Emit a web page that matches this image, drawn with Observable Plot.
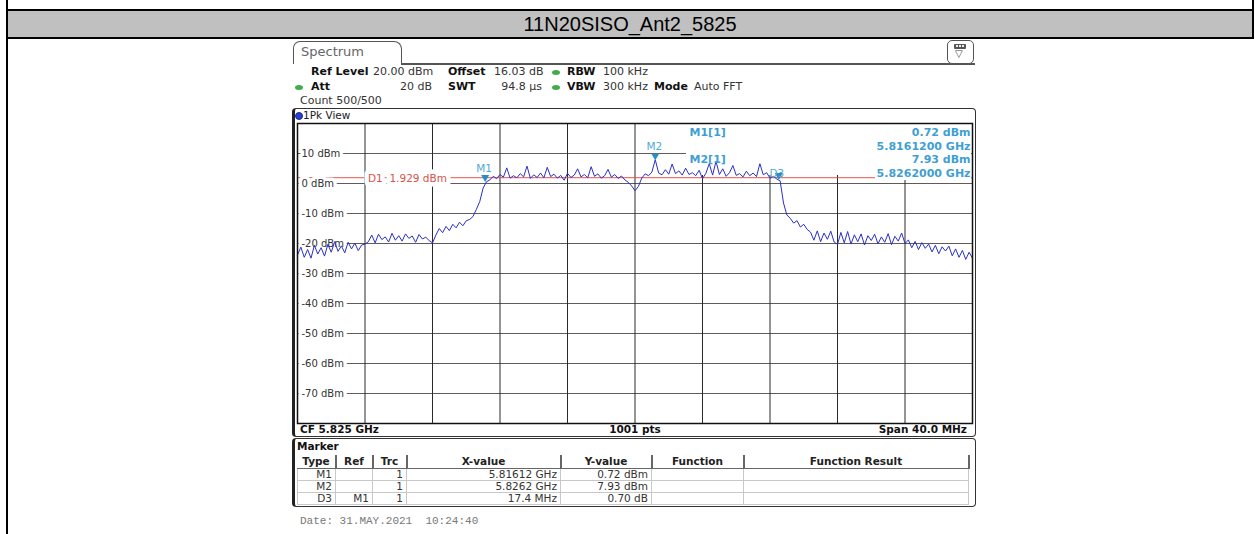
<!DOCTYPE html>
<html><head><meta charset="utf-8">
<script src="https://cdn.jsdelivr.net/npm/d3@7"></script>
<script src="https://cdn.jsdelivr.net/npm/@observablehq/plot@0.6"></script>
<style>
body{margin:0;background:#fff;width:1255px;height:534px;overflow:hidden;position:relative;font-family:"DejaVu Sans",sans-serif;}
.a{position:absolute;white-space:nowrap;}
.t{position:absolute;white-space:nowrap;font-size:11px;line-height:14px;height:14px;color:#333;}
.b{font-weight:bold;color:#111;}
.dot{position:absolute;width:8px;height:5px;border-radius:50%;background:#3fae4a;}
#mtab{position:absolute;left:297px;top:455px;border-collapse:collapse;font-size:10.5px;color:#333;table-layout:fixed;}
#mtab th{height:13px;padding:0;font-weight:bold;text-align:center;border-right:2px solid #666;border-bottom:1.5px solid #666;color:#222;line-height:13px;}
#mtab td{height:11px;padding:0 3px 0 0;text-align:right;border:1px solid #c8c8c8;line-height:11px;}
#chart{position:absolute;left:292px;top:108px;}
</style></head><body>
<!-- page frame -->
<div class="a" style="left:6px;top:0;width:2px;height:534px;background:#000"></div>
<div class="a" style="left:1252px;top:0;width:2px;height:39px;background:#000"></div>
<div class="a" style="left:6px;top:9px;width:1248px;height:2px;background:#000"></div>
<div class="a" style="left:8px;top:11px;width:1244px;height:26px;background:#c0c0c0"></div>
<div class="a" style="left:6px;top:37px;width:1248px;height:2px;background:#000"></div>
<div class="a" id="title" style="left:8px;top:11px;width:1244px;height:26px;line-height:26px;text-align:center;font-family:'Liberation Sans',Arial,sans-serif;font-size:20px;color:#000"></div>

<!-- spectrum tab -->
<div class="a" style="left:293px;top:41px;width:107px;height:22px;border:1.5px solid #555;border-bottom:none;border-radius:7px 8px 0 0"></div>
<div class="a" style="left:301px;top:44px;font-size:13px;line-height:16px;color:#666">Spectrum</div>
<div class="a" style="left:401px;top:63px;width:574px;height:1.5px;background:#555"></div>
<div class="a" style="left:947px;top:40px;width:25px;height:22px;border:1.5px solid #555;border-radius:5px;background:#fff"></div>
<div class="a" style="left:954px;top:44px;width:12px;height:5px;background:#555;border-radius:1px"></div>
<div class="a" style="left:956px;top:45px;width:2px;height:2px;background:#eee"></div>
<div class="a" style="left:959px;top:45px;width:2px;height:2px;background:#eee"></div>
<div class="a" style="left:962px;top:45px;width:2px;height:2px;background:#eee"></div>
<div class="a" style="left:955px;top:48px;font-size:10px;line-height:12px;color:#444">▽</div>

<!-- settings -->
<div class="t b" style="left:311px;top:65px">Ref Level</div>
<div class="t" style="left:373px;top:65px">20.00 dBm</div>
<div class="t b" style="left:448px;top:65px">Offset</div>
<div class="t" style="left:494px;top:65px">16.03 dB</div>
<div class="dot" style="left:552px;top:70px"></div>
<div class="t b" style="left:567px;top:65px">RBW</div>
<div class="t" style="left:603px;top:65px">100 kHz</div>

<div class="dot" style="left:295px;top:85px"></div>
<div class="t b" style="left:311px;top:80px">Att</div>
<div class="t" style="left:372px;top:80px;width:60px;text-align:right">20 dB</div>
<div class="t b" style="left:448px;top:80px">SWT</div>
<div class="t" style="left:482px;top:80px;width:60px;text-align:right">94.8 µs</div>
<div class="dot" style="left:552px;top:85px"></div>
<div class="t b" style="left:567px;top:80px">VBW</div>
<div class="t" style="left:603px;top:80px">300 kHz</div>
<div class="t b" style="left:654px;top:80px">Mode</div>
<div class="t" style="left:694px;top:80px">Auto FFT</div>
<div class="t" style="left:300px;top:94px">Count 500/500</div>

<!-- plot panel -->
<div class="a" style="left:292px;top:108px;width:680px;height:327px;border:1.5px solid #333;border-left:3px solid #222;border-radius:4px"></div>
<div class="a" style="left:295px;top:112px;width:6px;height:6px;border-radius:50%;background:#2840d0;border:1px solid #1a2a90"></div>
<div class="t" style="left:303px;top:108px;font-size:10.5px;color:#222">1Pk View</div>
<div class="t b" id="cf" style="left:300px;top:422px;font-size:10.5px"></div>
<div class="t b" id="pts" style="left:585px;top:422px;width:100px;text-align:center;font-size:10.5px"></div>
<div class="t b" id="span" style="left:867px;top:422px;width:100px;text-align:right;font-size:10.5px"></div>

<!-- marker panel -->
<div class="a" style="left:292px;top:438px;width:680px;height:67px;border:1.5px solid #333;border-left:3px solid #222;border-radius:4px"></div>
<div class="t b" style="left:297px;top:439px;font-size:10.5px">Marker</div>
<table id="mtab"></table>

<div class="a" id="date" style="left:300px;top:514px;font-family:'Liberation Mono',monospace;font-size:11px;line-height:14px;color:#777;white-space:pre"></div>

<div id="chart"></div>

<script>
const title = "11N20SISO_Ant2_5825";
const freqStartMHz = 5805;
const freqStopMHz = 5845;
const freqStepMHz = 0.2;
const cfLabel = "CF 5.825 GHz";
const ptsLabel = "1001 pts";
const spanLabel = "Span 40.0 MHz";
const dateLabel = "Date: 31.MAY.2021  10:24:40";

// trace (dBm), one value every 0.2 MHz from 5805 to 5845 MHz
const traceLevels = [
  -23.8,-21.2,-24.6,-22.0,-24.9,-20.6,-23.5,-21.4,-24.2,-20.3,-22.9,-19.4,-22.6,-20.8,-23.1,-19.6,-21.8,-19.9,-22.4,-20.5,-20.2,
  -19.4,-17.2,-19.8,-16.9,-18.7,-17.8,-19.5,-16.6,-18.9,-17.4,-19.2,-16.8,-18.3,-17.5,-19.6,-17.0,-18.5,-17.9,-19.0,-19.8,
  -17.2,-15.0,-16.4,-14.3,-15.7,-13.6,-14.8,-12.9,-14.1,-12.4,
  -12.0,-11.0,-8.6,-6.0,-1.5,0.6,
  1.2,2.4,1.6,3.0,2.1,5.2,1.8,2.6,1.9,3.3,2.2,5.8,1.7,2.9,2.0,3.5,1.9,5.4,2.3,3.1,
  1.8,2.7,1.1,3.4,2.0,2.8,4.9,2.2,3.0,1.9,5.6,2.4,3.2,1.8,2.6,4.7,2.1,3.0,1.7,2.5,1.2,0.4,
  -0.8,-2.4,-1.0,1.8,
  3.2,2.6,3.8,7.93,3.5,2.9,4.6,3.1,6.5,3.3,4.2,2.8,5.1,3.0,3.6,2.6,4.4,1.6,3.4,6.6,
  2.8,7.4,3.0,4.9,2.4,3.6,6.0,2.7,3.3,2.2,4.1,2.6,3.5,2.3,6.6,2.9,3.6,1.8,2.4,1.5,
  0.9,-6.5,-10.5,-11.6,-13.2,-12.4,-14.5,-13.6,-15.3,
  -16.2,-18.9,-15.8,-19.4,-16.5,-18.6,-15.9,-19.5,-20.3,
  -16.3,-19.8,-16.0,-20.2,-17.1,-19.4,-16.8,-20.5,-17.4,-19.0,-16.9,-20.1,-17.8,-19.6,-16.7,-20.4,-17.6,-19.2,-16.5,-20.0,
  -18.8,-21.4,-19.3,-22.0,-19.7,-21.6,-20.2,-22.8,-20.6,-23.4,-21.1,-22.5,-20.9,-24.1,-21.8,-24.6,-22.3,-25.3,-22.9,-24.9
];

const gridFreqs = [5809, 5813, 5817, 5821, 5825, 5829, 5833, 5837, 5841];
const levelTicks = [10, 0, -10, -20, -30, -40, -50, -60, -70];
const levelDomain = [-80, 20];
const displayLine = 1.929;

// marker table
const markerTypes = ["M1", "M2", "D3"];
const markerRefs = ["", "", "M1"];
const markerTrc = [1, 1, 1];
const markerXLabels = ["5.81612 GHz", "5.8262 GHz", "17.4 MHz"];
const markerYLabels = ["0.72 dBm", "7.93 dBm", "0.70 dB"];
const markerFreqMHz = [5816.12, 5826.2, 17.4];   // D3 is relative to M1
const markerLevels = [0.72, 7.93, 0.70];         // D3 is relative to M1
const tableHeaders = ["Type", "Ref", "Trc", "X-value", "Y-value", "Function", "Function Result"];

document.getElementById("title").textContent = title;
document.getElementById("cf").textContent = cfLabel;
document.getElementById("pts").textContent = ptsLabel;
document.getElementById("span").textContent = spanLabel;
document.getElementById("date").textContent = dateLabel;

// table
const colW = [38, 37, 34, 154, 91, 92, 225];
const tab = document.getElementById("mtab");
tab.innerHTML = "<colgroup>" + colW.map(w => `<col style="width:${w}px">`).join("") + "</colgroup>" +
  "<tr>" + tableHeaders.map(h => `<th>${h}</th>`).join("") + "</tr>" +
  markerTypes.map((t, i) => `<tr><td>${t}</td><td>${markerRefs[i]}</td><td>${markerTrc[i]}</td><td>${markerXLabels[i]}</td><td>${markerYLabels[i]}</td><td></td><td></td></tr>`).join("");

const trace = traceLevels.map((v, i) => ({freq: freqStartMHz + i * freqStepMHz, level: v}));
const markerPts = markerTypes.map((name, i) => {
  const rel = name.startsWith("D");
  const refIdx = rel ? markerTypes.indexOf(markerRefs[i]) : -1;
  return {
    name,
    kind: rel ? "D" : "M",
    freq: rel ? markerFreqMHz[refIdx] + markerFreqMHz[i] : markerFreqMHz[i],
    level: rel ? markerLevels[refIdx] + markerLevels[i] : markerLevels[i]
  };
});

// readout (top right)
const absMarkers = markerPts.filter(d => d.kind === "M");
const readoutRows = [];
absMarkers.forEach(m => {
  readoutRows.push([`${m.name}[1]`, `${m.level.toFixed(2)} dBm`]);
  readoutRows.push([null, `${(m.freq / 1000).toFixed(7)} GHz`]);
});

const readoutMask = (index, scales, values, dims) => {
  const right = dims.width - dims.marginRight;
  const top = dims.marginTop + 1;
  const ns = "http://www.w3.org/2000/svg";
  const g = document.createElementNS(ns, "g");
  const r1 = document.createElementNS(ns, "rect");
  r1.setAttribute("x", right - 286); r1.setAttribute("y", top);
  r1.setAttribute("width", 285); r1.setAttribute("height", 51); r1.setAttribute("fill", "white");
  const r2 = document.createElementNS(ns, "rect");
  r2.setAttribute("x", right - 97); r2.setAttribute("y", top);
  r2.setAttribute("width", 96); r2.setAttribute("height", 56); r2.setAttribute("fill", "white");
  g.appendChild(r1); g.appendChild(r2);
  return g;
};

const blueText = "#3f9fd2";
const readoutMarks = readoutRows.flatMap((r, i) => {
  const dy = 9 + i * 13.5;
  const ms = [];
  if (r[0]) ms.push(Plot.text([r[0]], {frameAnchor: "top-right", text: d => d, textAnchor: "start", lineAnchor: "middle", dx: -283, dy, fill: blueText, fontWeight: "bold", fontSize: 11}));
  ms.push(Plot.text([r[1]], {frameAnchor: "top-right", text: d => d, textAnchor: "end", lineAnchor: "middle", dx: -2, dy, fill: blueText, fontWeight: "bold", fontSize: 11}));
  return ms;
});

const chart = Plot.plot({
  width: 683,
  height: 330,
  marginLeft: 5, marginRight: 3, marginTop: 15, marginBottom: 15,
  style: {background: "transparent", fontFamily: "'DejaVu Sans', sans-serif", overflow: "visible"},
  x: {domain: [freqStartMHz, freqStopMHz], axis: null},
  y: {domain: levelDomain, axis: null},
  marks: [
    Plot.ruleY(levelTicks, {stroke: "#5c5c5c", strokeWidth: 1}),
    Plot.ruleX(gridFreqs, {stroke: "#2a2a2a", strokeWidth: 1}),
    Plot.ruleY([displayLine], {stroke: "#e2564c", strokeWidth: 1}),
    readoutMask,
    Plot.text(levelTicks, {x: freqStartMHz, y: d => d, text: d => `${d} dBm`, textAnchor: "start", lineAnchor: "middle", dx: 4, fill: "#333", stroke: "white", strokeWidth: 7, strokeLinejoin: "round", paintOrder: "stroke", fontSize: 10}),
    Plot.text([displayLine], {x: gridFreqs[0], y: d => d, text: d => `D1  ${d.toFixed(3)} dBm`, textAnchor: "start", lineAnchor: "middle", dx: 3, dy: 1, fill: "#d9534a", stroke: "white", strokeWidth: 9, strokeLinejoin: "round", paintOrder: "stroke", fontSize: 10.5}),
    Plot.line(trace, {x: "freq", y: "level", stroke: "#2b30c6", strokeWidth: 1}),
    Plot.dot(markerPts, {x: "freq", y: "level", symbol: "triangle", rotate: 180, r: 3, fill: "#2a8dc5", dy: -4}),
    Plot.text(markerPts.filter(d => d.kind === "M"), {x: "freq", y: "level", text: "name", dy: -13, dx: -1, fill: "#52a9d4", fontSize: 10.5}),
    Plot.text(markerPts.filter(d => d.kind === "D"), {x: "freq", y: "level", text: "name", dy: -6, dx: -2, fill: "#52a9d4", fontSize: 10.5}),
    ...readoutMarks,
    Plot.frame({stroke: "#111", strokeWidth: 1.5})
  ]
});
document.getElementById("chart").appendChild(chart);
</script>
</body></html>
